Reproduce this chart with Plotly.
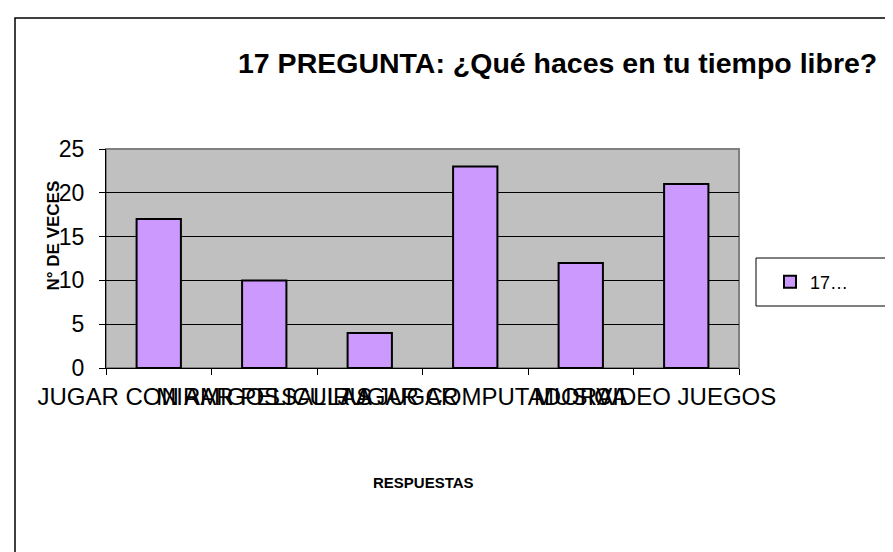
import plotly.graph_objects as go

# datos de la pregunta 17
respuestas = ["JUGAR CON AMIGOS", "MIRAR PELICULAS", "SALIR A JUGAR",
              "JUGAR COMPUTADORA", "MUSICA", "VIDEO JUEGOS"]
veces = [17, 10, 4, 23, 12, 21]
serie = "17…"
y_ticks = [0, 5, 10, 15, 20, 25]

# margenes del area de trazado (px)
L, R, T, B = 98, 162, 141, 192
W, H = 893 - L - R, 552 - T - B


def px_x(x):  # pixel horizontal -> coordenada paper
    return (x - L) / W


def px_y(y):  # pixel vertical -> coordenada paper
    return (552 - B - y) / H


fig = go.Figure()
fig.add_trace(go.Bar(x=respuestas, y=veces, name=serie, width=0.42,
                     marker=dict(color="#CC99FF", line=dict(color="black", width=2))))

fig.update_layout(
    width=893, height=552,
    margin=dict(l=L, r=R, t=T, b=B),
    paper_bgcolor="white", plot_bgcolor="#C0C0C0",
    font=dict(family="Liberation Sans, Arial", color="black"),
    showlegend=True,
    legend=dict(x=px_x(762), y=px_y(274), xanchor="left", yanchor="middle",
                bgcolor="rgba(0,0,0,0)", borderwidth=0, itemwidth=30,
                font=dict(size=18)),
    bargap=0.58,
)

fig.update_xaxes(type="category", tickmode="linear", dtick=1, tickangle=0,
                 tickson="boundaries", ticks="outside", ticklen=6, tickcolor="black",
                 showline=True, linecolor="black", linewidth=1, showgrid=False,
                 tickfont=dict(size=24), ticklabelstandoff=7)
fig.update_yaxes(range=[0, 25], tickvals=y_ticks, ticks="outside", ticklen=6,
                 tickcolor="black", showline=True, linecolor="black", linewidth=1,
                 showgrid=True, gridcolor="black", gridwidth=1, zeroline=False,
                 tickfont=dict(size=23), ticklabelstandoff=10)

# borde del grafico, borde gris del area y caja de leyenda
fig.add_shape(type="rect", xref="paper", yref="paper", x0=px_x(7), y0=-2, x1=2, y1=px_y(10),
              line=dict(color="black", width=1.5), layer="below")
fig.add_shape(type="rect", xref="paper", yref="paper", x0=0, y0=0, x1=1, y1=1,
              line=dict(color="#808080", width=2), layer="below")
fig.add_shape(type="rect", xref="paper", yref="paper", x0=px_x(748), y0=px_y(298),
              x1=2, y1=px_y(250), line=dict(color="black", width=1), fillcolor="white")

# titulos
fig.add_annotation(text="<b>17 PREGUNTA: ¿Qué haces en tu tiempo libre?</b>", xref="paper",
                   yref="paper", x=px_x(549), y=px_y(55), showarrow=False,
                   xanchor="center", yanchor="middle", font=dict(size=28.5))
fig.add_annotation(text="<b>N° DE VECES</b>", xref="paper", yref="paper", x=px_x(33),
                   y=px_y(228), textangle=-90, showarrow=False, font=dict(size=17))
fig.add_annotation(text="<b>RESPUESTAS</b>", xref="paper", yref="paper", x=px_x(415),
                   y=px_y(485), showarrow=False, font=dict(size=15))

fig.write_html("out.html")
